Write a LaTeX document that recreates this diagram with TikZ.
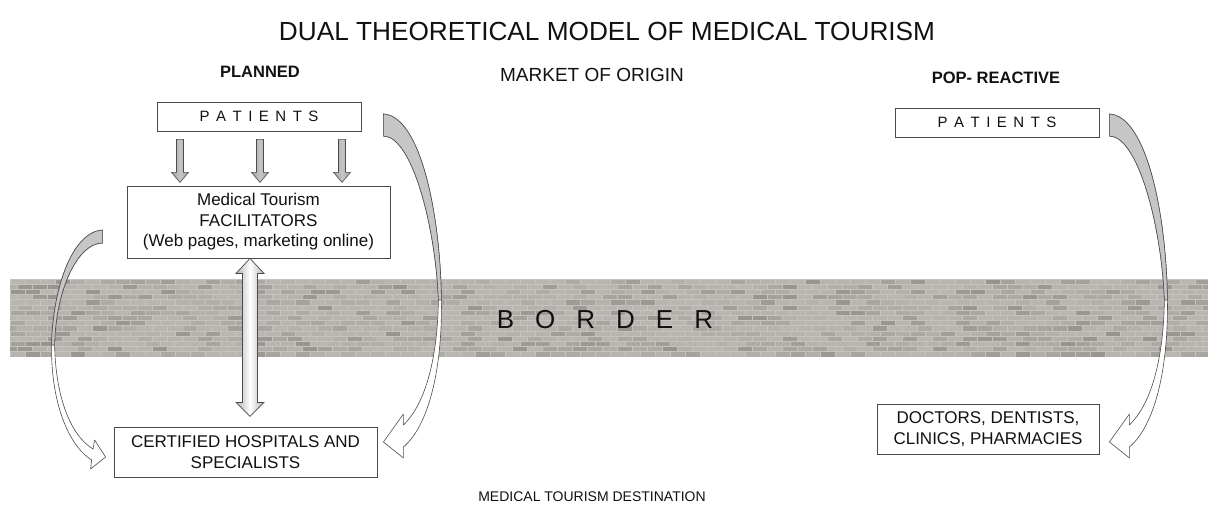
\documentclass[tikz,border=0pt]{standalone}
\usepackage{fontspec}
\setmainfont{Liberation Sans}
\usetikzlibrary{calc}

\definecolor{txt}{HTML}{111111}
\definecolor{boxline}{HTML}{4A4A4A}
\definecolor{arrline}{HTML}{4D4D4D}
\definecolor{ribbon}{HTML}{C6C6C6}
\definecolor{mortar}{HTML}{C6C3BE}
\definecolor{brickdark}{HTML}{97938E}
\definecolor{bricklight}{HTML}{B9B6B1}

\tikzset{
  box/.style={draw=boxline, fill=white, line width=0.8pt, inner sep=0pt,
    align=center, text=txt, font={\fontsize{17}{20.5}\selectfont}},
  heading/.style={text=txt, inner sep=0pt, align=center},
  ribbonline/.style={draw=arrline, line width=0.6pt, line join=round},
  downfill/.style={draw=arrline, line width=0.6pt, left color=gray!75, right color=gray!75, middle color=gray!45},
  dblfill/.style={draw=arrline, line width=0.7pt, left color=gray!60, right color=gray!60, middle color=white},
  pics/downarrow/.style={code={
    \path[downfill] (-3.5,0) -- (3.5,0) -- (3.5,33) -- (8.5,33) -- (0,43)
      -- (-8.5,33) -- (-3.5,33) -- cycle;}}
}

% letter-spaced words
\newcommand\patword{P\kern6.5pt A\kern6.5pt T\kern6.5pt I\kern6.5pt E\kern6.5pt N\kern6.5pt T\kern6.5pt S}
\newcommand\borderword{B\kern21pt O\kern21pt R\kern21pt D\kern21pt E\kern21pt R}

\begin{document}
\begin{tikzpicture}[x=1pt, y=-1pt]
\useasboundingbox (0,0) rectangle (1208,508);

% ---- brick wall band ----
\fill[mortar] (10,279) rectangle (1208,357);
\begin{scope}
  \clip (10,279) rectangle (1208,357);
  \pgfmathsetseed{42}
  \foreach \row in {0,...,14} {
    \pgfmathsetmacro\yy{279+\row*5.2}
    \pgfmathsetmacro\off{mod(\row,2)*7.5}
    \foreach \col in {0,...,81} {
      \pgfmathsetmacro\xx{10-\off+\col*15}
      \pgfmathsetmacro\tt{rnd}
      \pgfmathtruncatemacro\shd{100*\tt*\tt*\tt}
      \fill[brickdark!\shd!bricklight] (\xx+0.5,\yy+0.5) rectangle (\xx+14.5,\yy+4.7);
    }
  }
\end{scope}
\node[heading, font={\fontsize{26}{26}\selectfont}] (border) at (605,320) {\borderword};

% ---- headings ----
\node[heading, font={\fontsize{26.2}{28}\selectfont}] (title) at (607,31)
  {DUAL THEORETICAL MODEL OF MEDICAL TOURISM};
\node[heading, font={\fontsize{16.5}{18}\selectfont\bfseries}] (planned) at (260,72) {PLANNED};
\node[heading, font={\fontsize{19}{21}\selectfont}] (origin) at (592,75) {MARKET OF ORIGIN};
\node[heading, font={\fontsize{16.5}{18}\selectfont\bfseries}] (pop) at (996,78) {POP- REACTIVE};
\node[heading, font={\fontsize{14}{16}\selectfont}] (dest) at (592,497) {MEDICAL TOURISM DESTINATION};

% ---- boxes ----
\node[box, minimum width=204, minimum height=29, font={\fontsize{15}{17}\selectfont}] (patA) at (259,116.5) {\patword};
\node[box, minimum width=263, minimum height=72] (fac) at (258.5,222)
  {Medical Tourism\\FACILITATORS\\(Web pages, marketing online)};
\node[box, minimum width=263, minimum height=50] (cert) at (245.5,452)
  {CERTIFIED HOSPITALS AND\\SPECIALISTS};
\node[box, minimum width=204, minimum height=29, font={\fontsize{15}{17}\selectfont}] (patB) at (997,122.5) {\patword};
\node[box, minimum width=222, minimum height=50] (doc) at (988,429)
  {DOCTORS, DENTISTS,\\CLINICS, PHARMACIES};

% ---- patients to facilitators ----
\pic at ($(patA.south)+(-79,8)$) {downarrow};
\pic at ($(patA.south)+(1,8)$) {downarrow};
\pic at ($(patA.south)+(83,8)$) {downarrow};

% ---- facilitators <-> hospitals ----
\coordinate (dtop) at ($(fac.south)+(-8.5,0)$);
\begin{scope}[shift={(dtop)}]
  \path[dblfill] (0,0) -- (14,15) -- (7.5,15) -- (7.5,144) -- (14,144) -- (0,158)
    -- (-14,144) -- (-7.5,144) -- (-7.5,15) -- (-14,15) -- cycle;
\end{scope}

% ---- curved ribbon arrows ----
\newcommand\bigribbon{%
  \path[ribbonline, fill=white] (0,0) .. controls (37,2) and (57,100) .. (58,186)
    .. controls (59,256) and (45,312) .. (20,333) -- (20,344) -- (0,328) -- (20,300) -- (20,311)
    .. controls (40,292) and (54,250) .. (55,186)
    .. controls (52,110) and (28,22) .. (0,22) -- cycle;
  \path[ribbonline, fill=ribbon] (0,0) .. controls (37,2) and (57,100) .. (58,186)
    -- (55,186) .. controls (52,110) and (28,22) .. (0,22) -- cycle;}

% patients -> hospitals (planned)
\begin{scope}[shift={($(patA.east)+(22,-2.5)$)}]
  \bigribbon
\end{scope}
% patients -> doctors (pop-reactive)
\begin{scope}[shift={($(patB.east)+(10,-8.5)$)}]
  \bigribbon
\end{scope}
% facilitators -> hospitals
\begin{scope}[shift={($(fac.west)+(-24,8)$)}]
  \path[ribbonline, fill=white] (0,0) .. controls (-31,2) and (-50,60) .. (-51,115)
    .. controls (-52,170) and (-35,215) .. (-11,230) -- (-12,239) -- (3,227) -- (-8,210) -- (-9.5,219)
    .. controls (-33,205) and (-47,165) .. (-48,115)
    .. controls (-47,60) and (-25,13) .. (0,13) -- cycle;
  \path[ribbonline, fill=ribbon] (0,0) .. controls (-31,2) and (-50,60) .. (-51,115)
    -- (-48,115) .. controls (-47,60) and (-25,13) .. (0,13) -- cycle;
\end{scope}

\end{tikzpicture}
\end{document}
